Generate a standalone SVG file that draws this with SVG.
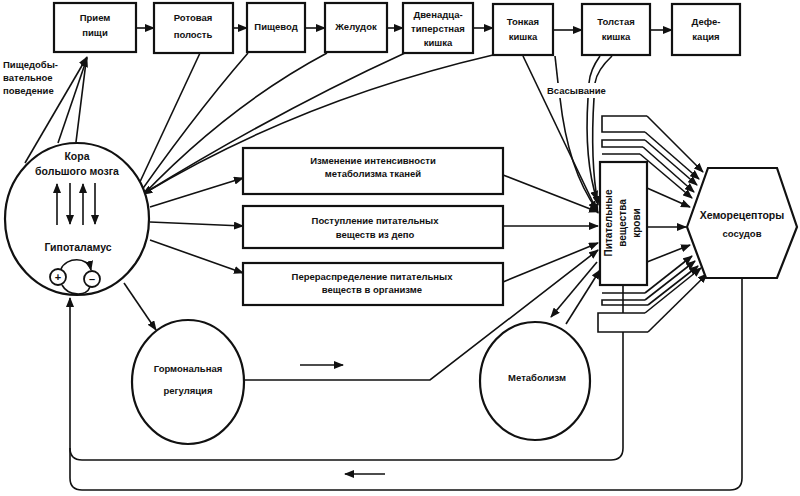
<svg xmlns="http://www.w3.org/2000/svg" width="800" height="496" viewBox="0 0 800 496">
<defs>
<marker id="ah" markerUnits="userSpaceOnUse" markerWidth="10" markerHeight="8" refX="9" refY="4" orient="auto">
<path d="M0,0 L10,4 L0,8 z" fill="#111"/>
</marker>
<style>
.b{fill:#fff;stroke:#111;stroke-width:2.2}
.t{font-family:"Liberation Sans",Arial,sans-serif;font-weight:bold;font-size:9.5px;fill:#111;text-anchor:middle}
.l{font-family:"Liberation Sans",Arial,sans-serif;font-weight:bold;font-size:9.5px;fill:#111}
.c{fill:none;stroke:#111;stroke-width:1.6}
.a{fill:none;stroke:#111;stroke-width:1.6;marker-end:url(#ah)}
</style>
</defs>
<rect width="800" height="496" fill="#fff"/>

<g id="connectors">
<!-- top chain -->
<path class="a" d="M137 28 L154 28"/>
<path class="a" d="M233 28 L247 28"/>
<path class="a" d="M305 28 L325 28"/>
<path class="a" d="M387 28 L403 28"/>
<path class="a" d="M473 28 L493 28"/>
<path class="a" d="M553 30 L582 30"/>
<path class="a" d="M650 30 L672 30"/>
<!-- brain to intake -->
<path class="a" d="M25 163 L87 57"/>
<path class="a" d="M58 143 L87 58"/>
<path class="c" d="M76 142 L86 62"/>
<!-- digestive tract to brain -->
<path class="a" d="M200 53 L125 214"/>
<path class="a" d="M248 53 Q190 120 125 214"/>
<path class="a" d="M327 53 Q220 110 126 213"/>
<path class="a" d="M405 53 Q280 110 143 194"/>
<path class="a" d="M493 55 Q300 100 143 194"/>
<!-- brain to middle boxes -->
<path class="a" d="M150 207 L243 178"/>
<path class="a" d="M150 222 L243 226"/>
<path class="a" d="M150 240 L243 273"/>
<!-- brain to hormonal -->
<path class="a" d="M124 283 L156 330"/>
<!-- middle boxes to blood -->
<path class="a" d="M503 175 L598 212"/>
<path class="a" d="M503 226 L598 226"/>
<path class="a" d="M503 282 L598 243"/>
<path class="a" d="M243 380 L430 380 L598 250"/>
<!-- absorption -->
<path class="a" d="M523 56 L598 213"/>
<path class="c" d="M555 56 L558 83"/>
<path class="a" d="M560 98 Q568 170 597 210"/>
<path class="c" d="M600 56 Q590 70 589 83"/>
<path class="a" d="M588 98 Q584 160 597 200"/>
<path class="c" d="M612 56 Q597 70 595 83"/>
<path class="a" d="M594 98 Q590 160 598 205"/>
<!-- metabolism -->
<path class="a" d="M597 262 L551 317"/>
<path class="a" d="M566 324 L600 270"/>
<!-- blood to chemoreceptors -->
<path class="a" d="M647 188 L690 207"/>
<path class="a" d="M647 227 L686 227"/>
<path class="a" d="M647 262 L690 245"/>
<!-- upper bars -->
<path class="c" d="M647 116 L602 116 L602 132 L645 132"/>
<path class="a" d="M647 116 L703 172"/>
<path class="a" d="M645 132 L699 179"/>
<path class="c" d="M645 140 L602 140 L602 147 L643 147"/>
<path class="a" d="M645 140 L697 185"/>
<path class="a" d="M643 147 L694 192"/>
<path class="c" d="M602 154 L640 154"/>
<path class="a" d="M640 154 L692 198"/>
<!-- lower bars -->
<path class="c" d="M602 293 L645 293"/>
<path class="a" d="M645 293 L692 256"/>
<path class="c" d="M645 300 L602 300 L602 305 L648 305"/>
<path class="a" d="M645 300 L695 261"/>
<path class="a" d="M648 305 L698 266"/>
<path class="c" d="M645 313 L598 313 L598 332 L648 332"/>
<path class="a" d="M645 313 L701 268"/>
<path class="a" d="M648 332 L707 274"/>
<path class="c" d="M623 285 L623 313"/>
<!-- feedback loops -->
<path class="a" d="M742 278 L742 478 Q742 490 730 490 L82 490 Q70 490 70 478 L70 298"/>
<path class="c" d="M623 332 L623 448 Q623 460 611 460 L82 460 Q70 460 70 448"/>
<path class="a" d="M300 365 L343 365"/>
<path class="a" d="M385 474 L345 474"/>
</g>

<g id="n-priem"><rect class="b" x="54" y="3" width="82" height="49"/><text class="t" x="95" y="21">Прием</text><text class="t" x="95" y="36">пищи</text></g>
<g id="n-rot"><rect class="b" x="154" y="3" width="79" height="50"/><text class="t" x="193" y="21">Ротовая</text><text class="t" x="193" y="38">полость</text></g>
<g id="n-pish"><rect class="b" x="247" y="3" width="58" height="49"/><text class="t" x="276" y="30">Пищевод</text></g>
<g id="n-zhel"><rect class="b" x="325" y="3" width="62" height="49"/><text class="t" x="356" y="30">Желудок</text></g>
<g id="n-12"><rect class="b" x="403" y="3" width="70" height="50"/><text class="t" x="438" y="18">Двенадца-</text><text class="t" x="438" y="32">типерстная</text><text class="t" x="438" y="46">кишка</text></g>
<g id="n-tonk"><rect class="b" x="493" y="4" width="60" height="51"/><text class="t" x="523" y="25">Тонкая</text><text class="t" x="523" y="40">кишка</text></g>
<g id="n-tolst"><rect class="b" x="582" y="4" width="68" height="51"/><text class="t" x="616" y="25">Толстая</text><text class="t" x="616" y="40">кишка</text></g>
<g id="n-def"><rect class="b" x="672" y="4" width="68" height="51"/><text class="t" x="706" y="25">Дефе-</text><text class="t" x="706" y="40">кация</text></g>

<g id="lbl-behavior"><text class="l" x="3" y="68">Пищедобы-</text><text class="l" x="3" y="81">вательное</text><text class="l" x="3" y="94">поведение</text></g>
<g id="lbl-abs"><text class="l" x="547" y="94">Всасывание</text></g>

<g id="n-brain">
<ellipse class="b" cx="77" cy="219" rx="72" ry="76"/>
<text class="t" x="77" y="160" style="font-size:10.5px">Кора</text>
<text class="t" x="77" y="175" style="font-size:10.5px">большого мозга</text>
<path class="a" d="M57 225 L57 184"/>
<path class="a" d="M70 183 L70 224"/>
<path class="a" d="M83 225 L83 184"/>
<path class="a" d="M95 183 L95 224"/>
<text class="t" x="78" y="251" style="font-size:10.5px">Гипоталамус</text>
<circle cx="58" cy="277" r="8" fill="none" stroke="#111" stroke-width="1.8"/>
<text class="t" x="58" y="281" style="font-size:11px">+</text>
<circle cx="92" cy="279" r="8" fill="none" stroke="#111" stroke-width="1.8"/>
<text class="t" x="92" y="283" style="font-size:11px">–</text>
<path class="a" d="M61 269 C66 257 88 256 91 270"/>
<path class="c" d="M90 287 C86 297 68 296 62 285"/>
</g>

<g id="n-m1"><rect class="b" x="243" y="148" width="260" height="46"/><text class="t" x="373" y="164">Изменение  интенсивности</text><text class="t" x="373" y="177">метаболизма тканей</text></g>
<g id="n-m2"><rect class="b" x="243" y="206" width="260" height="42"/><text class="t" x="375" y="224">Поступление питательных</text><text class="t" x="375" y="238">веществ  из депо</text></g>
<g id="n-m3"><rect class="b" x="243" y="263" width="260" height="42"/><text class="t" x="372" y="280">Перераспределение питательных</text><text class="t" x="372" y="293">веществ  в организме</text></g>

<g id="n-blood"><rect class="b" x="600" y="162" width="47" height="123"/>
<text class="t" transform="translate(612,223) rotate(-90)" style="font-size:10px">Питательные</text>
<text class="t" transform="translate(626,223) rotate(-90)" style="font-size:10px">вещества</text>
<text class="t" transform="translate(640,223) rotate(-90)" style="font-size:10px">крови</text>
</g>

<g id="n-chemo"><polygon class="b" points="687,227 708,168 777,168 797,227 777,278 706,278"/><text class="t" x="742" y="219" style="font-size:10.5px">Хеморецепторы</text><text class="t" x="742" y="237">сосудов</text></g>

<g id="n-horm"><ellipse class="b" cx="188" cy="382" rx="56" ry="62"/><text class="t" x="188" y="372">Гормональная</text><text class="t" x="188" y="394">регуляция</text></g>

<g id="n-metab"><ellipse class="b" cx="535" cy="381" rx="55" ry="59"/><text class="t" x="537" y="381">Метаболизм</text></g>
</svg>
